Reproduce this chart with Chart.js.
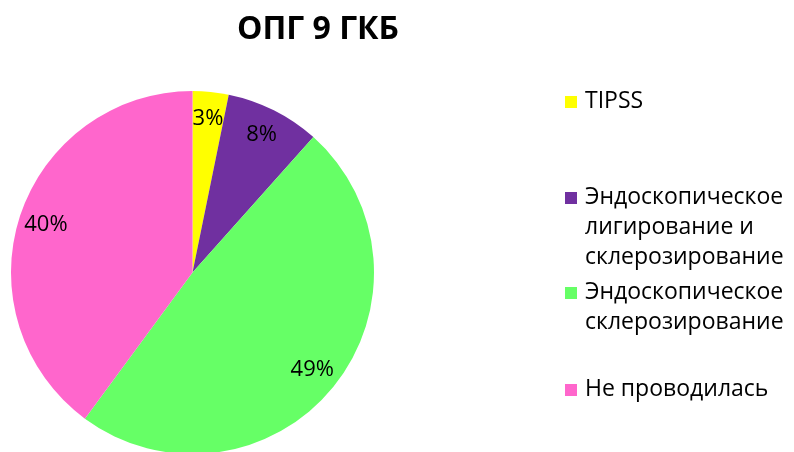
<!DOCTYPE html>
<html><head><meta charset="utf-8">
<script src="https://cdn.jsdelivr.net/npm/chart.js@4"></script>
<style>html,body{margin:0;padding:0;background:#fff;}#wrap{width:794px;height:452px;position:relative;}</style>
</head><body><div id="wrap"><canvas id="c" width="794" height="452"></canvas></div>
<script>
const title = "ОПГ 9 ГКБ";
const categories = ["TIPSS", "Эндоскопическое лигирование и склерозирование", "Эндоскопическое склерозирование", "Не проводилась"];
const legendLines = [["TIPSS"], ["Эндоскопическое", "лигирование и", "склерозирование"], ["Эндоскопическое", "склерозирование"], ["Не проводилась"]];
const values = [3.2, 8.4, 48.5, 39.9];
const colors = ["#FFFF00", "#7030A0", "#66FF66", "#FF66CC"];

const overlay = {
  id: 'overlay',
  afterDraw(chart) {
    const ctx = chart.ctx;
    const meta = chart.getDatasetMeta(0);
    const total = values.reduce((a, b) => a + b, 0);
    ctx.save();
    ctx.fillStyle = '#000';
    ctx.textAlign = 'center';
    ctx.textBaseline = 'middle';
    ctx.font = '22px "Open Sans"';
    meta.data.forEach((arc, i) => {
      const p = arc.getProps(['x', 'y', 'startAngle', 'endAngle', 'outerRadius'], true);
      const mid = (p.startAngle + p.endAngle) / 2;
      const r = p.outerRadius * 0.85;
      const pct = Math.round(values[i] / total * 100) + '%';
      ctx.fillText(pct, p.x + Math.cos(mid) * r, p.y + Math.sin(mid) * r);
    });
    // title
    ctx.font = 'bold 32px "Open Sans"';
    ctx.fillText(title, 318, 30);
    // legend
    const starts = [101, 197, 292, 389];
    ctx.textAlign = 'left';
    ctx.font = '23px "Open Sans"';
    legendLines.forEach((lines, i) => {
      ctx.fillStyle = colors[i];
      ctx.fillRect(565, starts[i] - 5, 12, 12);
      ctx.fillStyle = '#000';
      lines.forEach((t, j) => ctx.fillText(t, 585, starts[i] + j * 30));
    });
    ctx.restore();
  }
};

new Chart(document.getElementById('c'), {
  type: 'pie',
  data: { labels: categories, datasets: [{ data: values, backgroundColor: colors, borderWidth: 0 }] },
  options: {
    responsive: false, animation: false,
    radius: 181.5,
    layout: { padding: { left: 0, right: 409, top: 93, bottom: 0 } },
    plugins: { legend: { display: false }, title: { display: false }, tooltip: { enabled: false } }
  },
  plugins: [overlay]
});
</script></body></html>
